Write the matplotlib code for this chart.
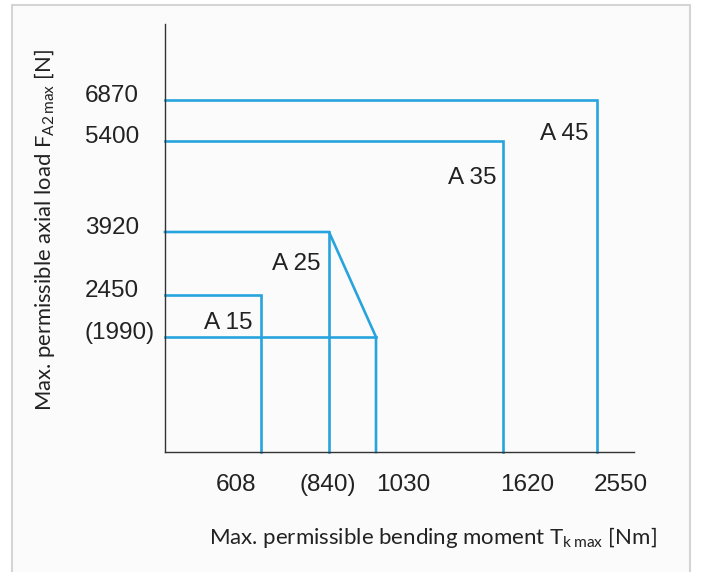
import numpy as np
import matplotlib.pyplot as plt
from matplotlib.patches import Rectangle

plt.rcParams['font.family'] = ['Liberation Sans', 'DejaVu Sans']
plt.rcParams['mathtext.fontset'] = 'custom'
plt.rcParams['mathtext.rm'] = 'Lato'

# data
sizes = ['A 15', 'A 25', 'A 35', 'A 45']
moment = [608, 840, 1030, 1620, 2550]          # Nm
moment_labels = ['608', '(840)', '1030', '1620', '2550']
axial = [1990, 2450, 3920, 5400, 6870]         # N
axial_labels = ['(1990)', '2450', '3920', '5400', '6870']

# outlines of the permissible regions
a15_x = [0, 608, 608]
a15_y = [2450, 2450, 0]
a25_x = [0, 840, 1030, 1030]
a25_y = [3920, 3920, 1990, 0]
a25_inner_x = [0, 1030]
a25_inner_y = [1990, 1990]
a25_vert_x = [840, 840]
a25_vert_y = [3920, 0]
a35_x = [0, 1620, 1620]
a35_y = [5400, 5400, 0]
a45_x = [0, 2550, 2550]
a45_y = [6870, 6870, 0]

# the diagram is not to scale: piecewise axis positions (pixels from origin)
x_breaks = [0, 608, 840, 1030, 1620, 2550, 2900]
x_pos = [0, 96, 164, 211, 338, 432, 469]
y_breaks = [0, 1990, 2450, 3920, 5400, 6870, 8000]
y_pos = [0, 115, 157, 220, 311, 352, 428]

def fx(v):
    return np.interp(v, x_breaks, x_pos)
def fx_inv(v):
    return np.interp(v, x_pos, x_breaks)
def fy(v):
    return np.interp(v, y_breaks, y_pos)
def fy_inv(v):
    return np.interp(v, y_pos, y_breaks)

blue = '#27a4dd'
W, H = 701, 572
fig = plt.figure(figsize=(W / 100, H / 100), dpi=100)
fig.patch.set_facecolor('white')
fig.patches.append(Rectangle((12 / W, -0.05), (690 - 12) / W, 1.05 - 5 / H,
                             transform=fig.transFigure, facecolor='#fbfbfb',
                             edgecolor='#d4d4d4', lw=1.5, zorder=-10))

ax = fig.add_axes([165 / W, 1 - 452 / H, (634 - 165) / W, (452 - 24) / H])
ax.set_xscale('function', functions=(fx, fx_inv))
ax.set_yscale('function', functions=(fy, fy_inv))
ax.set_xlim(0, 2900)
ax.set_ylim(0, 8000)
ax.patch.set_alpha(0)

lw = 1.9
for xs, ys in [(a15_x, a15_y), (a25_x, a25_y), (a25_inner_x, a25_inner_y),
               (a25_vert_x, a25_vert_y), (a35_x, a35_y), (a45_x, a45_y)]:
    ax.plot(xs, ys, color=blue, lw=lw, solid_joinstyle='miter', clip_on=False)

for s in ['top', 'right']:
    ax.spines[s].set_visible(False)
for s in ['left', 'bottom']:
    ax.spines[s].set_color('#333333')
    ax.spines[s].set_linewidth(1.0)
ax.set_xticks([])
ax.set_yticks([])

fs = 17.5
x_off = [-25, -1, 27, 24, 24]
for v, lab, dx in zip(moment, moment_labels, x_off):
    ax.annotate(lab, (v, 0), xytext=(dx, -33), textcoords='offset pixels',
                ha='center', va='center', fontsize=fs, color='#222222',
                annotation_clip=False)

for v, lab in zip(axial, axial_labels):
    ax.annotate(lab, (0, v), xycoords='data', xytext=(-80, 4),
                textcoords='offset pixels', ha='left', va='center',
                fontsize=fs, color='#222222', annotation_clip=False)

# size labels, anchored at the top right corner of each region
corners = [(608, 2450), (840, 3920), (1620, 5400), (2550, 6870)]
lab_off = [(-9, -17), (-8, -21), (-7, -26), (-9, -23)]
for name, (cx, cy), (dx, dy) in zip(sizes, corners, lab_off):
    ax.annotate(name, (cx, cy), xytext=(dx, dy), textcoords='offset pixels',
                ha='right', va='top', fontsize=fs, color='#222222')

fig.text(657 / W, 1 - 537 / H,
         r'Max. permissible bending moment $\mathrm{T_{k\,max}}$ [Nm]',
         ha='right', va='center', fontsize=16, family='Lato', color='#222222')
fig.text(45 / W, 1 - 230 / H,
         r'Max. permissible axial load $\mathrm{F_{A2\,max}}$ [N]',
         ha='center', va='center', rotation=90, fontsize=15.8, family='Lato',
         color='#222222')

fig.savefig('out.png', dpi=100, facecolor=fig.get_facecolor())
